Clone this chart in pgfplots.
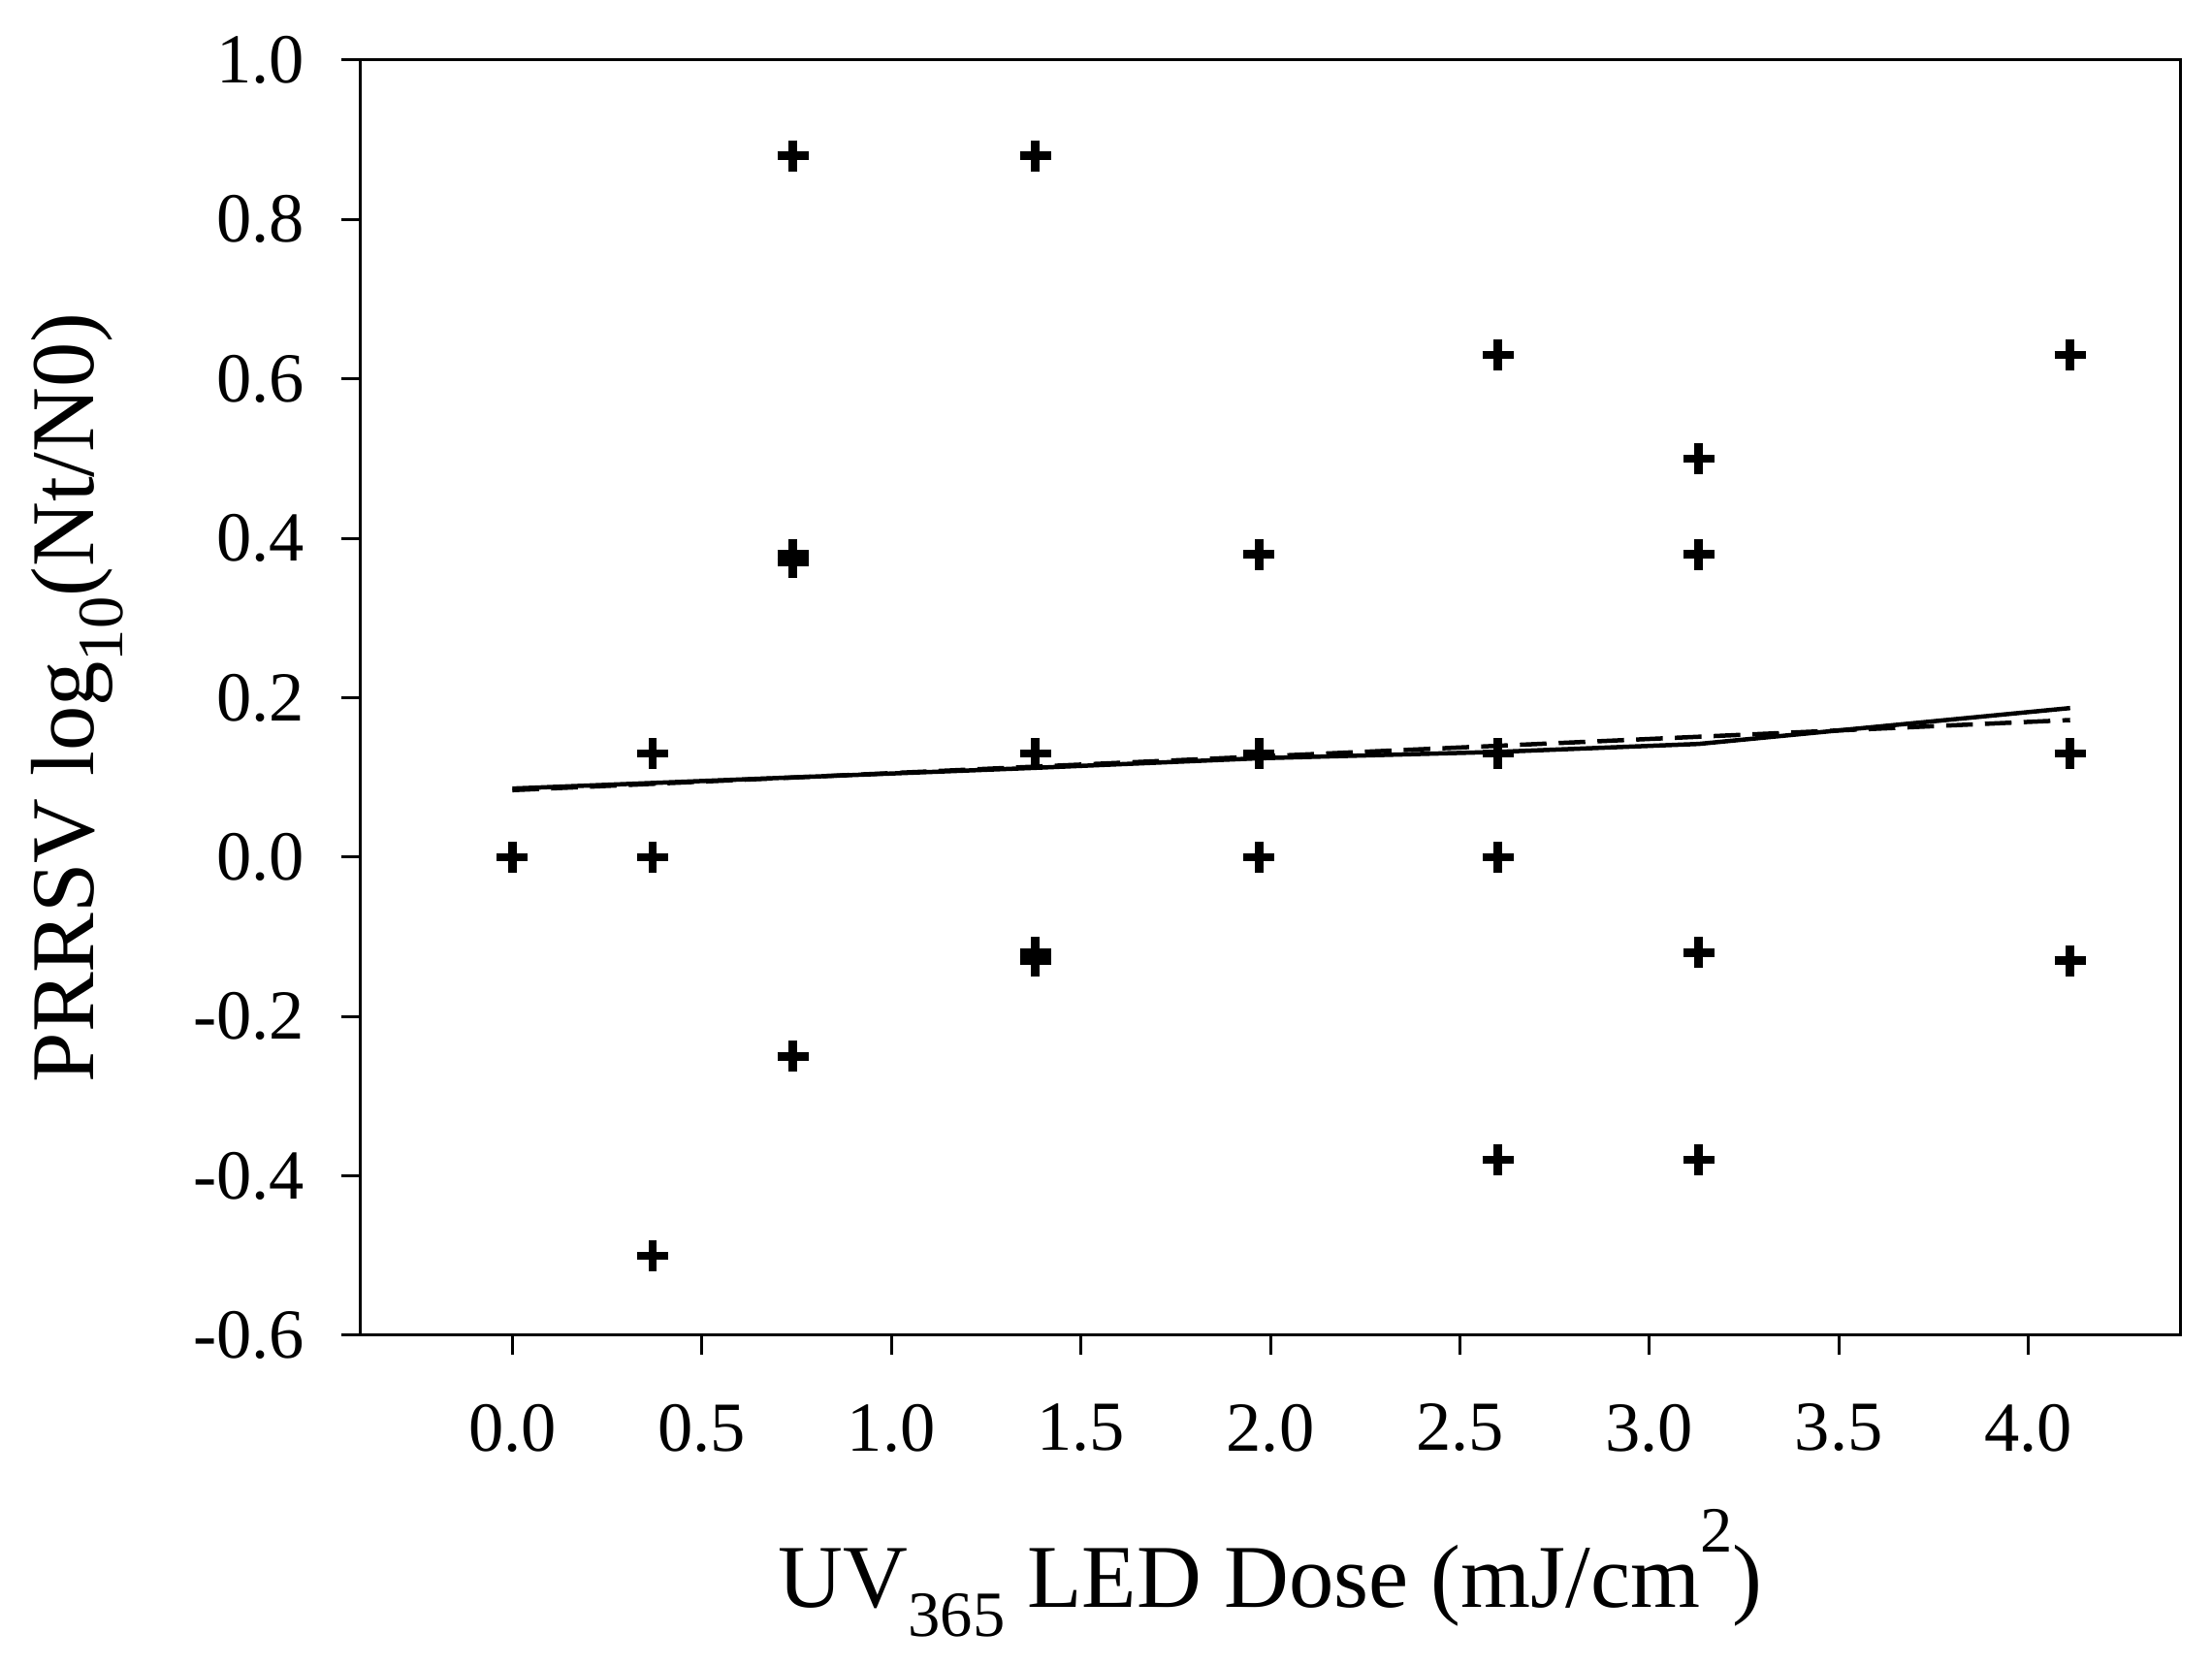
\documentclass[border=0pt]{standalone}
\usepackage{fontspec}
\setmainfont{Liberation Serif}
\usepackage{graphicx}
\usepackage{pgfplots}
\pgfplotsset{compat=1.18}
\newcommand\lsub[1]{\raisebox{-0.32em}{\scalebox{0.72}{#1}}}
\newcommand\lsup[1]{\raisebox{0.62em}{\scalebox{0.72}{#1}}}
\pgfplotstableread{
x y
0 0
0.37 0.13
0.37 0
0.37 -0.50
0.74 0.88
0.74 0.38
0.74 0.37
0.74 -0.25
1.38 0.88
1.38 0.13
1.38 -0.12
1.38 -0.13
1.97 0.38
1.97 0.13
1.97 0
2.60 0.63
2.60 0.13
2.60 0
2.60 -0.38
3.13 0.50
3.13 0.38
3.13 -0.12
3.13 -0.38
4.11 0.63
4.11 0.13
4.11 -0.13
}\pts
\pgfplotstableread{
x y
0 0.086
0.37 0.093
0.74 0.100
1.38 0.112
1.97 0.124
2.60 0.132
3.13 0.142
4.11 0.187
}\solidfit
\pgfplotstableread{
x y
0 0.084
4.11 0.172
}\dashfit
\begin{document}
\begin{tikzpicture}
\begin{axis}[
  name=ax,
  scale only axis, width=375.2pt, height=263pt,
  xmin=-0.4, xmax=4.4, ymin=-0.6, ymax=1.0,
  xtick={0,0.5,1,1.5,2,2.5,3,3.5,4},
  ytick={-0.6,-0.4,-0.2,0,0.2,0.4,0.6,0.8,1.0},
  /pgf/number format/.cd, fixed, fixed zerofill, precision=1, assume math mode=true,
  /pgfplots/.cd,
  tick pos=left, tick align=outside, major tick length=4pt,
  tick style={line width=0.6pt, black},
  axis line style={line width=0.6pt},
  ticklabel style={font=\fontsize{14.5}{17}\selectfont, inner sep=0pt},
  xticklabel style={anchor=north, yshift=-10pt},
  yticklabel style={anchor=east, xshift=-7.4pt},
  xlabel={UV\lsub{365} LED Dose (mJ/cm\lsup{2})},
  ylabel={PRRSV log\lsub{10}(Nt/N0)},
  xlabel style={font=\fontsize{18.5}{22}\selectfont, at={(axis description cs:0.5,0)}, anchor=base, yshift=-56.2pt, inner sep=0pt},
  ylabel style={font=\fontsize{18.5}{22}\selectfont, at={(axis description cs:-0.1557,0.5)}, anchor=center, inner sep=0pt},
]
\addplot[black, line width=0.9pt, dash pattern=on 5.5pt off 2.5pt] table {\dashfit};
\addplot[black, line width=0.9pt] table {\solidfit};
\addplot[only marks, mark=+, mark size=3.2pt, mark options={line width=1.7pt, black}] table {\pts};
\end{axis}
\pgfresetboundingbox
\path[use as bounding box] ([shift={(-74.4pt,-68.2pt)}]ax.south west) rectangle ([shift={(6.6pt,12.4pt)}]ax.north east);
\end{tikzpicture}
\end{document}
